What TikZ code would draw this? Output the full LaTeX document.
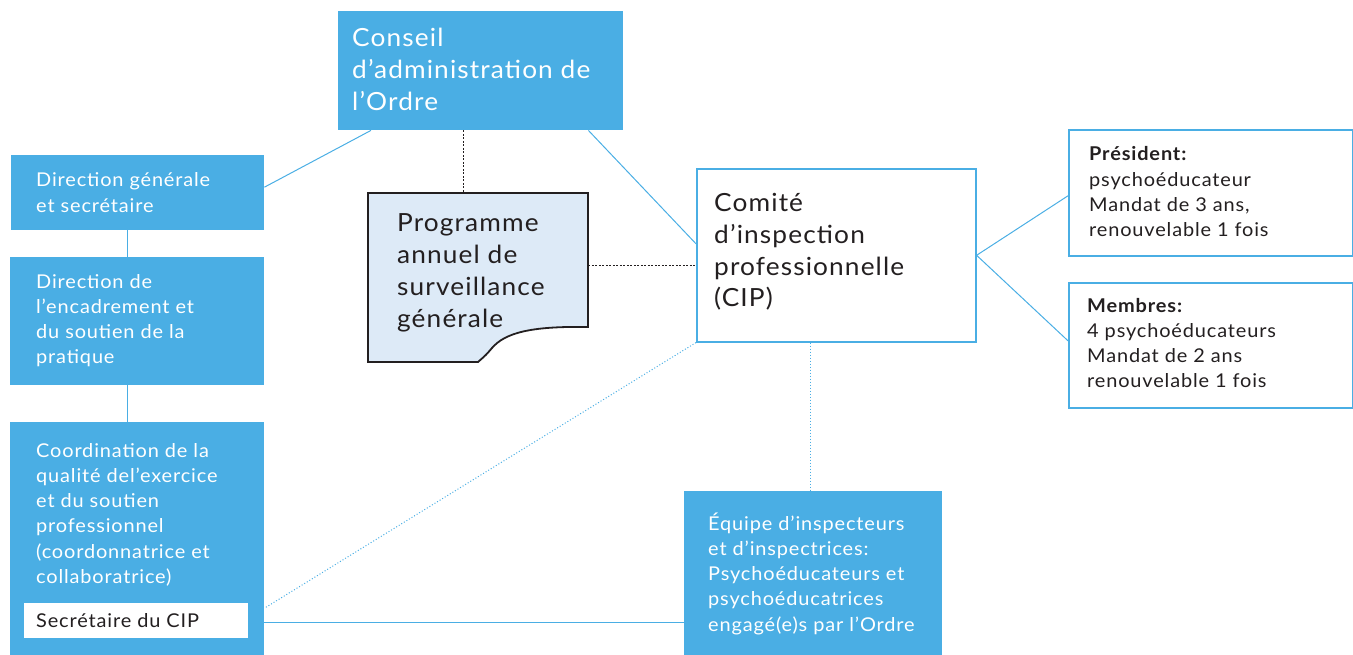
\documentclass[tikz,border=0pt]{standalone}
\usepackage{fontspec}
\setmainfont{Lato}[LetterSpace=4.5, FakeStretch=1.05]
\definecolor{cipblue}{RGB}{74,174,228}
\definecolor{docfill}{RGB}{221,234,247}
\definecolor{ink}{RGB}{35,31,32}
\tikzset{
  x=1pt, y=-1pt,
  bluebox/.style={draw=none, fill=cipblue, inner sep=0pt, anchor=north west},
  linebox/.style={draw=cipblue, line width=1.6pt, fill=white, inner sep=0pt, anchor=north west},
  % multi-line texts are placed by the baseline of their last line
  bigtxt/.style={inner sep=0pt, anchor=base west, align=left, font=\fontsize{25}{31.7}\selectfont},
  smalltxt/.style={inner sep=0pt, anchor=base west, align=left, font=\fontsize{19}{25.3}\selectfont},
  link/.style={draw=cipblue, line width=1pt},
  dotlink/.style={draw=cipblue, line width=1pt, dash pattern=on 1pt off 2pt},
  blackdot/.style={draw=ink, line width=1pt, dash pattern=on 2pt off 1.5pt},
}
\begin{document}
\begin{tikzpicture}
\useasboundingbox (0,0) rectangle (1353,655);

% --- boxes ---
\node[bluebox, minimum width=285pt, minimum height=119pt] (conseil) at (338,11) {};
\node[bluebox, minimum width=253pt, minimum height=75pt] (dirgen) at (11,155) {};
\node[bluebox, minimum width=254pt, minimum height=128pt] (direnc) at (10,257) {};
\node[bluebox, minimum width=254pt, minimum height=233pt] (coord) at (10,422) {};
\node[draw=none, fill=white, inner sep=0pt, anchor=north west, minimum width=224pt, minimum height=35pt] (sec) at (24,603) {};
\node[bluebox, minimum width=258pt, minimum height=164pt] (equipe) at (684,491) {};
\node[linebox, minimum width=279pt, minimum height=173pt] (cip) at (696,168) {};
\node[linebox, minimum width=284pt, minimum height=126pt] (pres) at (1068,129) {};
\node[linebox, minimum width=284pt, minimum height=125pt] (memb) at (1068,282) {};

% document shape with a wavy lower edge
\node[inner sep=0pt, anchor=north west, minimum width=220pt, minimum height=169pt] (prog) at (368,193) {};
\draw[fill=docfill, draw=ink, line width=1.8pt, line join=miter]
  (368,193) -- (588,193) -- (588,327)
  .. controls (530,326) and (505,333) .. (492,348)
  .. controls (486,355) .. (478,362) -- (368,362) -- cycle;

% --- texts ---
\node[bigtxt, text=white] (conseilT) at (352,110.4) {Conseil\\d’administration de\\l’Ordre};
\node[bigtxt, text=ink] (progT) at (397,327) {Programme\\annuel de\\surveillance\\générale};
\node[bigtxt, text=ink] (cipT) at (714,307) {Comité\\d’inspection\\professionnelle\\(CIP)};
\node[smalltxt, text=white] (dirgenT) at (36,212.3) {Direction générale\\et secrétaire};
\node[smalltxt, text=white] (direncT) at (36,363.9) {Direction de\\l’encadrement et\\du soutien de la\\pratique};
\node[smalltxt, text=white] (coordT) at (36,583.5) {Coordination de la\\qualité del’exercice\\et du soutien\\professionnel\\(coordonnatrice et\\collaboratrice)};
\node[smalltxt, text=ink] (secT) at (36,627) {Secrétaire du CIP};
\node[smalltxt, text=white] (equipeT) at (708,631.2) {Équipe d’inspecteurs\\et d’inspectrices:\\Psychoéducateurs et\\psychoéducatrices\\engagé(e)s par l’Ordre};
\node[smalltxt, text=ink] (presT) at (1089,236.9) {\textbf{Président:}\\psychoéducateur\\Mandat de 3 ans,\\renouvelable 1 fois};
\node[smalltxt, text=ink] (membT) at (1087,387.9) {\textbf{Membres:}\\4 psychoéducateurs\\Mandat de 2 ans\\renouvelable 1 fois};

% --- connectors ---
\coordinate (dgport) at ([yshift=5.5pt]dirgen.east);
\draw[link] (dgport) -- ([xshift=33pt]conseil.south west);
\draw[link] ([xshift=-35pt]conseil.south east) -- ([yshift=11.5pt]cip.west);
\draw[link] ([xshift=-10.5pt]dirgen.south) -- ([xshift=-10pt]direnc.north);
\draw[link] ([xshift=-10pt]direnc.south) -- ([xshift=-10pt]coord.north);
\draw[link] (cip.east) -- ([yshift=-3pt]pres.west);
\draw[link] (cip.east) -- ([yshift=4.5pt]memb.west);
\coordinate (coordport) at ([yshift=-83.5pt]coord.east);
\draw[link] (coordport) -- (coordport -| equipe.west);

\draw[blackdot] ([xshift=-17.5pt]conseil.south) -- ([xshift=-17.5pt]conseil.south |- prog.north);
\coordinate (progport) at ([yshift=12.5pt]prog.east);
\draw[blackdot] (progport) -- (progport -| cip.west);

\coordinate (cipdown) at ([xshift=-25.5pt]cip.south);
\draw[dotlink] (cipdown) -- (cipdown |- equipe.north);
\draw[dotlink] (cip.south west) -- ([yshift=-69.5pt]coord.east);
\end{tikzpicture}
\end{document}
